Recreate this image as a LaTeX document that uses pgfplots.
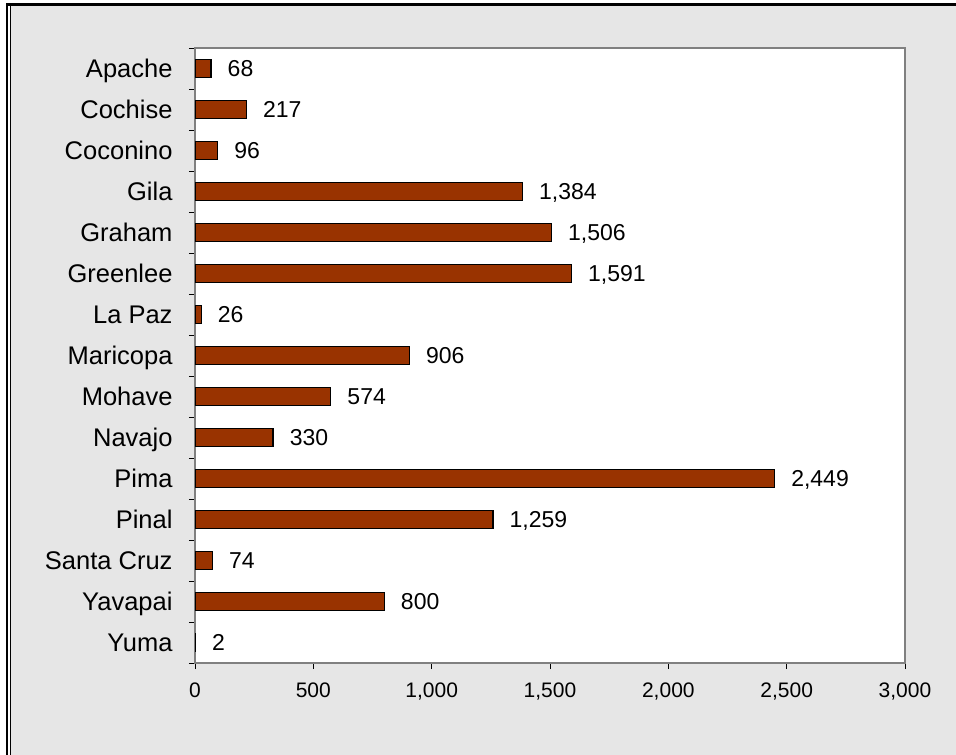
\documentclass[border=0pt]{standalone}
\usepackage{fontspec}
\setmainfont{Liberation Sans}
\usepackage{pgfplots}
\pgfplotsset{compat=1.18}
\definecolor{barred}{HTML}{993300}
\definecolor{bgtex}{HTML}{E6E6E6}
\definecolor{boxgray}{HTML}{808080}
\begin{document}
\begin{tikzpicture}
\useasboundingbox (0,0) rectangle (956bp,755bp);
\fill[white] (0,0) rectangle (956bp,755bp);
\fill[bgtex] (10bp,0) rectangle (956bp,749bp);
\draw[black, line width=3bp] (6bp,750.5bp) -- (956bp,750.5bp);
\draw[black, line width=1.8bp] (7.2bp,0) -- (7.2bp,752bp);
\draw[black, line width=1.2bp] (10.2bp,0) -- (10.2bp,749bp);
\begin{axis}[
  at={(195bp,92bp)}, anchor=south west,
  width=710bp, height=615bp, scale only axis,
  xbar, bar width=18bp,
  xmin=0, xmax=3000, ymin=-0.5, ymax=14.5, y dir=reverse,
  axis background/.style={fill=white},
  axis line style={draw=boxgray, line width=1.3bp},
  xtick={0,500,...,3000},
  ytick={-0.5,0.5,...,14.5},
  yticklabels={,,,,,,,,,,,,,,,},
  extra y ticks={0,...,14},
  extra y tick labels={Apache,Cochise,Coconino,Gila,Graham,Greenlee,La Paz,Maricopa,Mohave,Navajo,Pima,Pinal,Santa Cruz,Yavapai,Yuma},
  extra y tick style={major tick length=0pt, yticklabel style={font=\fontsize{25.5bp}{29bp}\selectfont, xshift=-19bp, text height=18.2bp, text depth=0pt, anchor=east}},
  tick align=outside,
  xtick pos=bottom, ytick pos=left,
  major tick length=6bp,
  tick style={black, line width=0.9bp},
  /pgf/number format/assume math mode=true,
  /pgf/number format/1000 sep={,},
  xticklabel style={font=\fontsize{21bp}{25bp}\selectfont, yshift=-10bp},
  nodes near coords={\pgfmathprintnumber[assume math mode=true,1000 sep={,}]{\pgfplotspointmeta}},
  nodes near coords style={anchor=west, inner sep=0pt, xshift=16bp, text height=16.5bp, text depth=0pt, font=\fontsize{23bp}{27bp}\selectfont, black},
]
\addplot[fill=barred, draw=black, line width=1.3bp] coordinates {
  (68,0) (217,1) (96,2) (1384,3) (1506,4) (1591,5) (26,6) (906,7)
  (574,8) (330,9) (2449,10) (1259,11) (74,12) (800,13) (2,14)
};
\end{axis}
\end{tikzpicture}
\end{document}
